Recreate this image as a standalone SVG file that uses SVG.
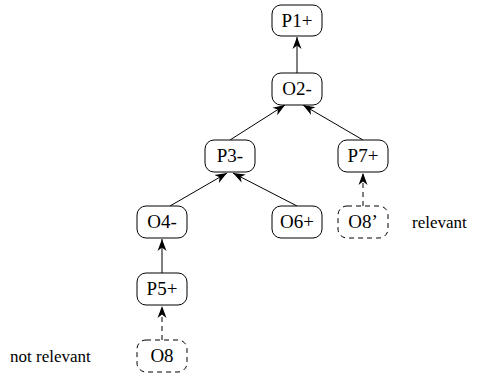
<svg xmlns="http://www.w3.org/2000/svg" width="479" height="376" viewBox="0 0 479 376">
<defs>
<marker id="ah" markerUnits="userSpaceOnUse" markerWidth="14" markerHeight="11" refX="12" refY="5" orient="auto">
<path d="M0,0.5 L12,5 L0,9.5 L3.5,5 z" fill="#000"/>
</marker>
</defs>
<g id="connectors" fill="none" stroke="#000" stroke-width="1">
<line x1="297" y1="73" x2="297" y2="37" marker-end="url(#ah)"/>
<line x1="230" y1="140" x2="285" y2="105" marker-end="url(#ah)"/>
<line x1="363" y1="140" x2="303" y2="105" marker-end="url(#ah)"/>
<line x1="170" y1="206" x2="227" y2="173" marker-end="url(#ah)"/>
<line x1="297" y1="206" x2="233" y2="173" marker-end="url(#ah)"/>
<line x1="162" y1="273" x2="162" y2="239" marker-end="url(#ah)"/>
<line x1="363" y1="206" x2="363" y2="173" stroke-dasharray="5 4" marker-end="url(#ah)"/>
<line x1="162" y1="340" x2="162" y2="306" stroke-dasharray="5 4" marker-end="url(#ah)"/>
</g>
<g font-family="'Times New Roman', 'Liberation Serif', 'DejaVu Serif', serif" font-size="19" text-anchor="middle" fill="#000">
<g id="P1"><rect fill="#fff" stroke="#000" x="272" y="5" width="50" height="31" rx="9"/><text x="297" y="27">P1+</text></g>
<g id="O2"><rect fill="#fff" stroke="#000" x="272" y="73" width="50" height="32" rx="9"/><text x="297" y="95">O2-</text></g>
<g id="P3"><rect fill="#fff" stroke="#000" x="205" y="140" width="50" height="32" rx="9"/><text x="230" y="162">P3-</text></g>
<g id="P7"><rect fill="#fff" stroke="#000" x="338" y="140" width="50" height="32" rx="9"/><text x="363" y="162">P7+</text></g>
<g id="O4"><rect fill="#fff" stroke="#000" x="137" y="206" width="50" height="32" rx="9"/><text x="162" y="228">O4-</text></g>
<g id="O6"><rect fill="#fff" stroke="#000" x="272" y="206" width="50" height="32" rx="9"/><text x="297" y="228">O6+</text></g>
<g id="O8p"><rect fill="#fff" stroke="#000" stroke-dasharray="5 4" x="338" y="206" width="50" height="32" rx="9"/><text x="363" y="228">O8’</text></g>
<g id="P5"><rect fill="#fff" stroke="#000" x="137" y="273" width="50" height="32" rx="9"/><text x="162" y="295">P5+</text></g>
<g id="O8"><rect fill="#fff" stroke="#000" stroke-dasharray="5 4" x="137" y="340" width="50" height="32" rx="9"/><text x="162" y="362">O8</text></g>
<text x="412" y="228" font-size="17" text-anchor="start">relevant</text>
<text x="10" y="362" font-size="17" text-anchor="start">not relevant</text>
</g>
</svg>
